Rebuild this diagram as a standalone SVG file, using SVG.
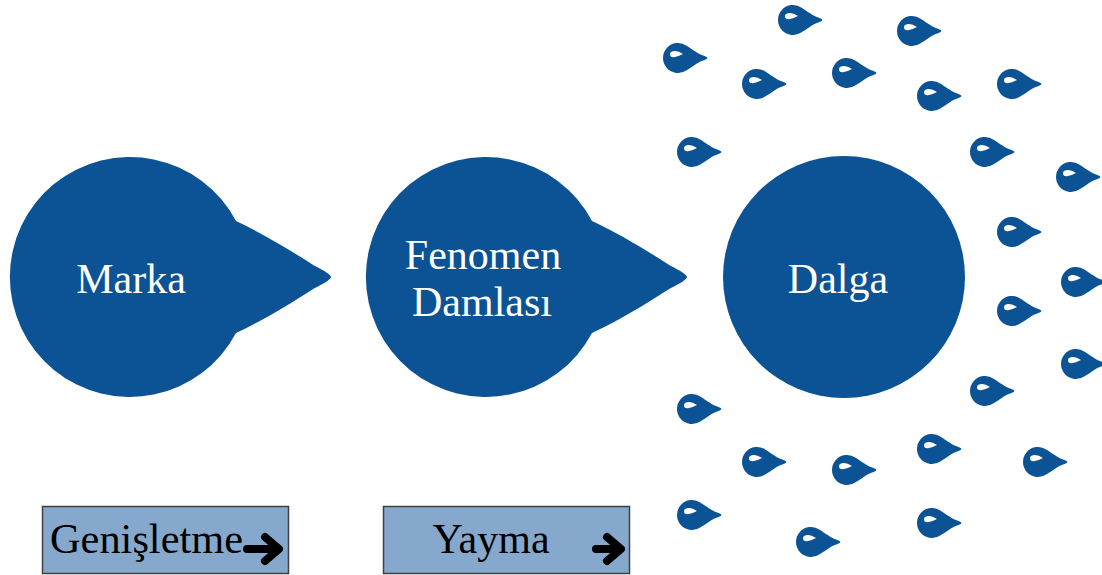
<svg xmlns="http://www.w3.org/2000/svg" xmlns:xlink="http://www.w3.org/1999/xlink" width="1102" height="575" viewBox="0 0 1102 575">
<style>
.blue{fill:#0B5394}
.hl{fill:#ffffff}
.lbl{font-family:"Liberation Serif","DejaVu Serif",serif;font-size:42px;fill:#ffffff;text-anchor:middle}
.box{fill:#85A8CC;stroke:#404040;stroke-width:1.5}
.btxt{font-family:"Liberation Serif","DejaVu Serif",serif;font-size:42px;fill:#000000}
.arr{fill:none;stroke:#000000;stroke-width:8;stroke-linecap:round;stroke-linejoin:round}
</style>
<defs>
<g id="drop">
<path class="blue" d="M 8.6,-12.3 C 14,-9 20,-4 26,-2.2 Q 29.5,-1 29.5,0 Q 29.5,1 26,2.2 C 20,4 14,9 8.6,12.3 A 15 15 0 1 1 8.6,-12.3 Z"/>
<path class="hl" d="M 5,-4 Q 0,-7.5 -4,-7 Q -8,-6.5 -8,-4 Q -8,-0.5 -4,-0.8 Q 0,-1.2 5,-4 Z"/>
</g>
<path id="bigdrop" d="M 236,221 C 262,233 290,250 314,265.5 Q 331,274 331,277 Q 331,280 314,288.5 C 290,304 262,321 236,333 A 120 120 0 1 1 236,221 Z"/>
</defs>
<g id="connectors"></g>
<g id="node-marka">
<use xlink:href="#bigdrop" class="blue"/>
<text class="lbl" x="131" y="293">Marka</text>
</g>
<g id="node-fenomen">
<use xlink:href="#bigdrop" class="blue" transform="translate(356,0)"/>
<text class="lbl" x="483" y="269">Fenomen</text>
<text class="lbl" x="482" y="316">Damlası</text>
</g>
<g id="node-dalga">
<circle class="blue" cx="844" cy="277" r="121"/>
<text class="lbl" x="838" y="293">Dalga</text>
</g>
<g id="droplets">
<use xlink:href="#drop" x="793" y="20"/>
<use xlink:href="#drop" x="912" y="31"/>
<use xlink:href="#drop" x="678" y="58"/>
<use xlink:href="#drop" x="757" y="84"/>
<use xlink:href="#drop" x="847" y="73"/>
<use xlink:href="#drop" x="932" y="96"/>
<use xlink:href="#drop" x="1012" y="84"/>
<use xlink:href="#drop" x="692" y="152"/>
<use xlink:href="#drop" x="985" y="152"/>
<use xlink:href="#drop" x="1071" y="177"/>
<use xlink:href="#drop" x="1012" y="232"/>
<use xlink:href="#drop" x="1076" y="282"/>
<use xlink:href="#drop" x="1012" y="311"/>
<use xlink:href="#drop" x="1076" y="364"/>
<use xlink:href="#drop" x="985" y="391"/>
<use xlink:href="#drop" x="692" y="409"/>
<use xlink:href="#drop" x="757" y="462"/>
<use xlink:href="#drop" x="847" y="470"/>
<use xlink:href="#drop" x="932" y="449"/>
<use xlink:href="#drop" x="1038" y="462"/>
<use xlink:href="#drop" x="692" y="515"/>
<use xlink:href="#drop" x="811" y="542"/>
<use xlink:href="#drop" x="932" y="523"/>
</g>
<g id="box-genisletme">
<rect class="box" x="42.5" y="506.5" width="246" height="67"/>
<text class="btxt" x="50" y="553" textLength="193" lengthAdjust="spacingAndGlyphs">Genişletme</text>
<path class="arr" d="M 247,549 H 277 M 265,537 L 279,549 L 265,561"/>
</g>
<g id="box-yayma">
<rect class="box" x="383.5" y="506.5" width="246" height="67"/>
<text class="btxt" x="491" y="553" text-anchor="middle">Yayma</text>
<path class="arr" d="M 596,549 H 619 M 607,537 L 621,549 L 607,561"/>
</g>
</svg>
